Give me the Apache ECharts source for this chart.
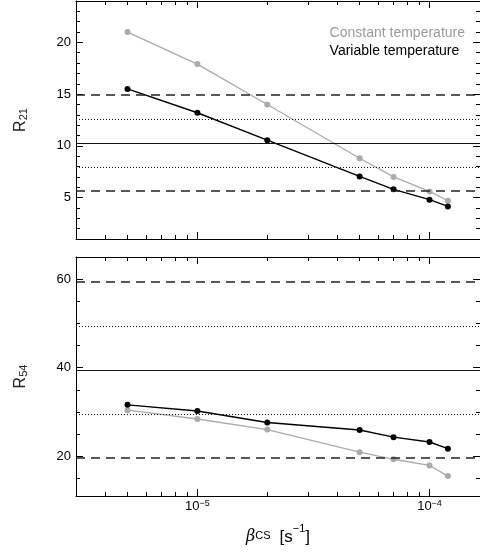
<!DOCTYPE html>
<html>
<head>
<meta charset="utf-8">
<script src="https://cdn.jsdelivr.net/npm/echarts@6/dist/echarts.min.js"></script>
<style>html,body{margin:0;padding:0;background:#fff}#c{width:480px;height:554px}</style>
</head>
<body>
<div id="c"></div>
<script>
// ---- data ----
const beta = [5e-6, 1e-5, 2e-5, 5e-5, 7e-5, 1e-4, 1.2e-4];
const r21Const = [21.0, 17.9, 14.0, 8.8, 7.0, 5.6, 4.7];
const r21Var = [15.5, 13.2, 10.55, 7.05, 5.8, 4.8, 4.15];
const r54Const = [30.4, 28.4, 26.0, 20.9, 19.3, 17.9, 15.5];
const r54Var = [31.6, 30.2, 27.6, 25.9, 24.3, 23.2, 21.7];
// reference levels: [+2s, +1s, mean, -1s, -2s]
const r21Levels = [14.9, 12.58, 10.26, 7.94, 5.62];
const r54Levels = [59.3, 49.4, 39.45, 29.55, 19.55];
// axis ranges and ticks
const xMin = 3e-6, xMax = 1.65e-4;
const xMajorTicks = [1e-5, 1e-4];
const xMinorTicks = [4e-6,5e-6,6e-6,7e-6,8e-6,9e-6,2e-5,3e-5,4e-5,5e-5,6e-5,7e-5,8e-5,9e-5];
const y21Range = [1, 24];
const y21Major = [5, 10, 15, 20];
const y21Minor = [2,3,4,6,7,8,9,11,12,13,14,16,17,18,19,21,22,23];
const y54Range = [11, 65];
const y54Major = [20, 40, 60];
const y54Minor = [15,25,30,35,45,50,55];
const seriesNames = ['Constant temperature', 'Variable temperature'];

const FONT = 'Liberation Sans';
const lg = Math.log10;
const levelStyles = [
  {type: [9, 6], width: 1.5, color: '#222'},
  {type: [1, 2], width: 1.2, color: '#111'},
  {type: 'solid', width: 1, color: '#111'},
  {type: [1, 2], width: 1.2, color: '#111'},
  {type: [9, 6], width: 1.5, color: '#222'}
];

function tickXAxis(grid, pos, ticks, len, showLine, labels) {
  return {
    type: 'value', gridIndex: grid, position: pos,
    min: lg(xMin), max: lg(xMax),
    axisLine: {show: showLine, onZero: false, lineStyle: {color: '#000', width: 1}},
    axisTick: {show: true, inside: true, length: len, customValues: ticks.map(lg), lineStyle: {color: '#000', width: 1}},
    axisLabel: labels ? {
      show: true, customValues: ticks.map(lg), margin: 3,
      formatter: v => '{b|10}{s|' + String(Math.round(v)).replace('-', '\u2212') + '}',
      rich: {
        b: {fontFamily: FONT, fontSize: 13, color: '#000', lineHeight: 14, padding: [5, 0, 0, 0], verticalAlign: 'bottom'},
        s: {fontFamily: FONT, fontSize: 9, color: '#000', lineHeight: 9, verticalAlign: 'top'}
      }
    } : {show: false},
    splitLine: {show: false}
  };
}
function tickYAxis(grid, pos, range, ticks, len, showLine, labels, name) {
  const ax = {
    type: 'value', gridIndex: grid, position: pos,
    min: range[0], max: range[1],
    axisLine: {show: showLine, onZero: false, lineStyle: {color: '#000', width: 1}},
    axisTick: {show: true, inside: true, length: len, customValues: ticks, lineStyle: {color: '#000', width: 1}},
    axisLabel: labels ? {show: true, customValues: ticks, margin: 5, color: '#000', fontFamily: FONT, fontSize: 13} : {show: false},
    splitLine: {show: false}
  };
  if (name) {
    ax.name = name;
    ax.nameLocation = 'middle';
    ax.nameGap = 47;
    ax.nameRotate = 90;
    ax.nameTextStyle = {
      rich: {
        r: {fontFamily: FONT, fontSize: 16, color: '#222', lineHeight: 16, padding: [0, 0, 5, 0], verticalAlign: 'top'},
        s: {fontFamily: FONT, fontSize: 11, color: '#222', lineHeight: 11, verticalAlign: 'bottom'}
      }
    };
  }
  return ax;
}
function dataXAxis(grid) {
  return {type: 'log', logBase: 10, gridIndex: grid, min: xMin, max: xMax, show: false};
}

const xAxes = [
  dataXAxis(0),
  tickXAxis(0, 'bottom', xMajorTicks, 7, true, false),
  tickXAxis(0, 'bottom', xMinorTicks, 4, false, false),
  tickXAxis(0, 'top', xMajorTicks, 7, true, false),
  tickXAxis(0, 'top', xMinorTicks, 4, false, false),
  dataXAxis(1),
  tickXAxis(1, 'bottom', xMajorTicks, 7, true, true),
  tickXAxis(1, 'bottom', xMinorTicks, 4, false, false),
  tickXAxis(1, 'top', xMajorTicks, 7, true, false),
  tickXAxis(1, 'top', xMinorTicks, 4, false, false)
];
// x title on bottom labelled axis
xAxes[6].name = '{b|\u03b2}{s|CS}{sp| }{t|[s}{u|\u22121}{t|]}';
xAxes[6].nameLocation = 'middle';
xAxes[6].nameGap = 27;
xAxes[6].nameTextStyle = {
  rich: {
    b: {fontFamily: 'DejaVu Serif', fontStyle: 'italic', fontSize: 16, color: '#000', lineHeight: 18, padding: [6, 0, 7, 0], verticalAlign: 'top'},
    s: {fontFamily: FONT, fontSize: 11, color: '#000', lineHeight: 11, verticalAlign: 'bottom'},
    sp: {fontSize: 16, lineHeight: 16, width: 9},
    t: {fontFamily: FONT, fontSize: 17, color: '#000', lineHeight: 18, padding: [6, 0, 7, 0], verticalAlign: 'top'},
    u: {fontFamily: FONT, fontSize: 11, color: '#000', lineHeight: 11, verticalAlign: 'top'}
  }
};

const yAxes = [
  tickYAxis(0, 'left', y21Range, y21Major, 7, true, true, '{r|R}{s|21}'),
  tickYAxis(0, 'left', y21Range, y21Minor, 4, false, false),
  tickYAxis(0, 'right', y21Range, y21Major, 7, true, false),
  tickYAxis(0, 'right', y21Range, y21Minor, 4, false, false),
  tickYAxis(1, 'left', y54Range, y54Major, 7, true, true, '{r|R}{s|54}'),
  tickYAxis(1, 'left', y54Range, y54Minor, 4, false, false),
  tickYAxis(1, 'right', y54Range, y54Major, 7, true, false),
  tickYAxis(1, 'right', y54Range, y54Minor, 4, false, false)
];

function levelMarks(levels) {
  return {
    silent: true, symbol: 'none', animation: false,
    label: {show: false},
    data: levels.map((v, i) => ({yAxis: v, lineStyle: levelStyles[i]}))
  };
}
function lineSeries(name, xs, ys, xi, yi, color, width, marks) {
  const s = {
    name, type: 'line', xAxisIndex: xi, yAxisIndex: yi,
    data: xs.map((x, i) => [x, ys[i]]),
    symbol: 'circle', symbolSize: 6, showSymbol: true,
    itemStyle: {color}, lineStyle: {color, width},
    emphasis: {disabled: true}, z: color === '#000' ? 4 : 3
  };
  if (marks) s.markLine = marks;
  return s;
}

const option = {
  animation: false,
  backgroundColor: '#fff',
  grid: [
    {left: 76, top: 1, width: 408, height: 238},
    {left: 76, top: 257, width: 408, height: 240}
  ],
  legend: {
    orient: 'vertical', right: 10, top: 21, itemGap: 4,
    icon: 'none', itemWidth: 0, itemHeight: 0,
    selectedMode: false,
    textStyle: {fontFamily: FONT, fontSize: 14},
    data: [
      {name: seriesNames[0], textStyle: {color: '#9a9a9a'}},
      {name: seriesNames[1], textStyle: {color: '#000'}}
    ]
  },
  xAxis: xAxes,
  yAxis: yAxes,
  series: [
    lineSeries(seriesNames[0], beta, r21Const, 0, 0, '#aaaaaa', 1.3, levelMarks(r21Levels)),
    lineSeries(seriesNames[1], beta, r21Var, 0, 0, '#000', 1.4),
    lineSeries(seriesNames[0], beta, r54Const, 5, 4, '#aaaaaa', 1.3, levelMarks(r54Levels)),
    lineSeries(seriesNames[1], beta, r54Var, 5, 4, '#000', 1.4)
  ]
};
const chart = echarts.init(document.getElementById('c'), null, {renderer: 'canvas'});
chart.setOption(option);
</script>
</body>
</html>
